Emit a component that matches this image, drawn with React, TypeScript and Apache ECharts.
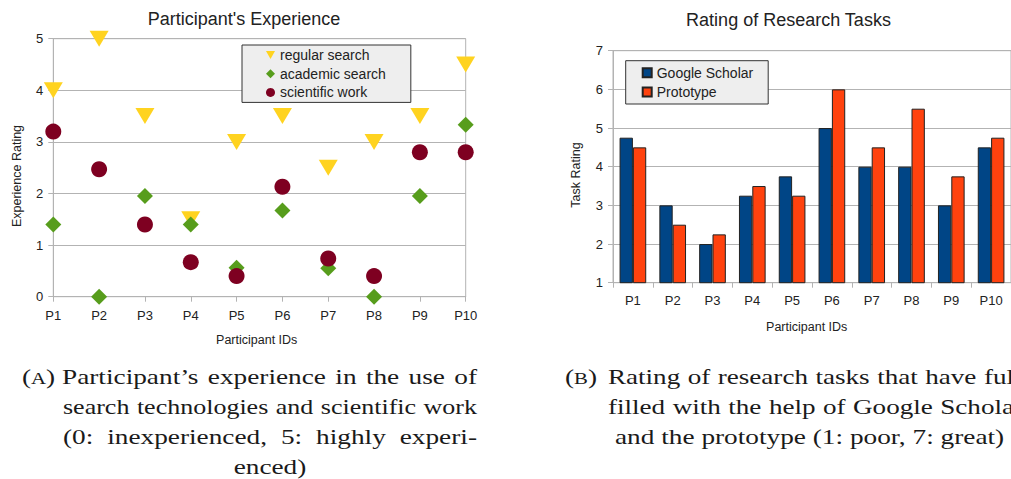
import React, { useEffect, useRef } from "react";
import * as echarts from "echarts";

// ---------- data ----------
const participants = ["P1", "P2", "P3", "P4", "P5", "P6", "P7", "P8", "P9", "P10"];
const regularSearch = [4, 5, 3.5, 1.5, 3, 3.5, 2.5, 3, 3.5, 4.5];
const academicSearch = [1.4, 0, 1.95, 1.4, 0.56, 1.67, 0.55, 0, 1.95, 3.33];
const scientificWork = [3.2, 2.47, 1.4, 0.67, 0.4, 2.13, 0.74, 0.4, 2.8, 2.8];
const googleScholar = [4.75, 3, 2, 3.25, 3.75, 5, 4, 4, 3, 4.5];
const prototypeRating = [4.5, 2.5, 2.25, 3.5, 3.25, 6, 4.5, 5.5, 3.75, 4.75];

const titleA = "Participant's Experience";
const titleB = "Rating of Research Tasks";
const yNameA = "Experience Rating";
const yNameB = "Task Rating";
const xName = "Participant IDs";

const captionA = [
  "Participant’s experience in the use of",
  "search technologies and scientific work",
  "(0: inexperienced, 5: highly experi-",
  "enced)",
];
const captionB = [
  "Rating of research tasks that have ful-",
  "filled with the help of Google Scholar",
  "and the prototype (1: poor, 7: great)",
];

// ---------- styles ----------
const SANS = "'Liberation Sans', Arial, sans-serif";
const SERIF = "'Liberation Serif', 'Times New Roman', serif";
const GRID = "#b3b3b3";
const TXT = "#222222";
const CAP_SIZE = 21;
const SX = 1.3;
const MIN_GAP = 7.5;

function measure(text: string, size: number): number {
  const c = document.createElement("canvas").getContext("2d")!;
  c.font = `${size}px ${SERIF}`;
  return c.measureText(text).width;
}

function capText(text: string, x: number, y: number, size = CAP_SIZE, align = "left", sx = SX) {
  return {
    type: "text",
    x,
    y,
    scaleX: sx,
    silent: true,
    style: {
      text,
      font: `${size}px ${SERIF}`,
      fill: "#1a1a1a",
      textAlign: align,
      textVerticalAlign: "bottom",
    },
  };
}

function justified(line: string, x0: number, x1: number, yb: number) {
  const words = line.split(" ");
  const natural = words.map((w) => measure(w, CAP_SIZE));
  const sumNat = natural.reduce((a, b) => a + b, 0);
  const avail = x1 - x0;
  const sx = Math.min(SX, (avail - (words.length - 1) * MIN_GAP) / sumNat);
  const widths = natural.map((w) => w * sx);
  const total = widths.reduce((a, b) => a + b, 0);
  const gap = (avail - total) / (words.length - 1);
  const els: any[] = [];
  let x = x0;
  words.forEach((w, i) => {
    els.push(capText(w, x, yb, CAP_SIZE, "left", sx));
    x += widths[i] + gap;
  });
  return els;
}

function label(letter: string, x: number, yb: number) {
  const wo = measure("(", CAP_SIZE) * SX;
  const wl = measure(letter, 16) * SX;
  return [
    capText("(", x, yb),
    capText(letter, x + wo, yb - 1, 16),
    capText(")", x + wo + wl, yb),
  ];
}

function sansText(text: string, x: number, y: number, size: number, rotation = 0) {
  return {
    type: "text",
    x,
    y,
    rotation,
    silent: true,
    style: {
      text,
      font: `${size}px ${SANS}`,
      fill: TXT,
      textAlign: "center",
      textVerticalAlign: "middle",
    },
  };
}

export default function App() {
  const ref = useRef<HTMLDivElement>(null);

  useEffect(() => {
    document.body.style.margin = "0";
    document.body.style.overflow = "hidden";
    const chart = echarts.init(ref.current!, undefined, { renderer: "svg" });

    const baselines = [387, 417, 447, 477];
    const captionEls: any[] = [
      ...label("A", 22, baselines[0]),
      ...justified(captionA[0], 62, 477, baselines[0]),
      ...justified(captionA[1], 63, 477, baselines[1]),
      ...justified(captionA[2], 63, 477, baselines[2]),
      capText(captionA[3], 270, baselines[3], CAP_SIZE, "center"),
      ...label("B", 565, baselines[0]),
      ...justified(captionB[0], 608, 1023, baselines[0]),
      ...justified(captionB[1], 608, 1023, baselines[1]),
      capText(captionB[2], 615, baselines[2]),
    ];

    const axisCommon = {
      axisLine: { show: true, lineStyle: { color: GRID, width: 1 } },
      axisTick: { show: true, length: 5, lineStyle: { color: GRID, width: 1 } },
      splitLine: { show: false },
    };

    chart.setOption({
      animation: false,
      backgroundColor: "#ffffff",
      textStyle: { fontFamily: SANS },
      grid: [
        { left: 53.3, top: 38.7, width: 412.4, height: 258, show: true, borderColor: GRID, borderWidth: 1 },
        { left: 613, top: 50.7, width: 405.6, height: 232, show: true, borderColor: GRID, borderWidth: 1 },
      ],
      xAxis: [
        {
          ...axisCommon,
          gridIndex: 0,
          type: "category",
          data: participants,
          boundaryGap: false,
          axisLabel: { margin: 12, fontSize: 13, color: TXT, fontFamily: SANS },
        },
        {
          ...axisCommon,
          gridIndex: 1,
          type: "category",
          data: participants,
          boundaryGap: true,
          axisLabel: { margin: 11, fontSize: 13, color: TXT, fontFamily: SANS },
        },
      ],
      yAxis: [
        {
          ...axisCommon,
          gridIndex: 0,
          type: "value",
          min: 0,
          max: 5,
          interval: 1,
          splitLine: { show: true, lineStyle: { color: GRID, width: 1 } },
          axisLabel: { margin: 10, fontSize: 13, color: TXT, fontFamily: SANS },
        },
        {
          ...axisCommon,
          gridIndex: 1,
          type: "value",
          min: 1,
          max: 7,
          interval: 1,
          splitLine: { show: true, lineStyle: { color: GRID, width: 1 } },
          axisLabel: { margin: 10, fontSize: 13, color: TXT, fontFamily: SANS },
        },
      ],
      legend: [
        {
          data: [
            { name: "regular search", icon: "path://M0,0L10,0L5,9Z" },
            { name: "academic search" },
            { name: "scientific work" },
          ],
          orient: "vertical",
          left: 242,
          top: 45,
          padding: [2, 25, 2, 24],
          itemGap: 2.7,
          itemWidth: 9,
          itemHeight: 9,
          backgroundColor: "#eeeeee",
          borderColor: "#333333",
          borderWidth: 1,
          selectedMode: false,
          textStyle: { fontSize: 14, lineHeight: 16, color: TXT, fontFamily: SANS },
        },
        {
          data: ["Google Scholar", "Prototype"],
          orient: "vertical",
          left: 625.7,
          top: 60.7,
          padding: [4, 15, 4, 16],
          itemGap: 3.3,
          itemWidth: 9,
          itemHeight: 9,
          icon: "rect",
          backgroundColor: "#eeeeee",
          borderColor: "#333333",
          borderWidth: 1,
          selectedMode: false,
          textStyle: { fontSize: 14, lineHeight: 16, color: TXT, fontFamily: SANS },
        },
      ],
      series: [
        {
          name: "regular search",
          type: "scatter",
          xAxisIndex: 0,
          yAxisIndex: 0,
          data: regularSearch,
          symbol: "triangle",
          symbolRotate: 180,
          symbolSize: [19, 16],
          itemStyle: { color: "#ffd320", opacity: 1 },
          emphasis: { disabled: true },
        },
        {
          name: "academic search",
          type: "scatter",
          xAxisIndex: 0,
          yAxisIndex: 0,
          data: academicSearch,
          symbol: "diamond",
          symbolSize: 16,
          itemStyle: { color: "#579d1c", opacity: 1 },
          emphasis: { disabled: true },
        },
        {
          name: "scientific work",
          type: "scatter",
          xAxisIndex: 0,
          yAxisIndex: 0,
          data: scientificWork,
          symbol: "circle",
          symbolSize: 16,
          itemStyle: { color: "#7e0021", opacity: 1 },
          emphasis: { disabled: true },
        },
        {
          name: "Google Scholar",
          type: "bar",
          xAxisIndex: 1,
          yAxisIndex: 1,
          data: googleScholar,
          barGap: "0%",
          barCategoryGap: "33%",
          itemStyle: { color: "#004586", borderColor: "#222222", borderWidth: 1 },
          emphasis: { disabled: true },
        },
        {
          name: "Prototype",
          type: "bar",
          xAxisIndex: 1,
          yAxisIndex: 1,
          data: prototypeRating,
          barGap: "0%",
          barCategoryGap: "33%",
          itemStyle: { color: "#ff420e", borderColor: "#222222", borderWidth: 1 },
          emphasis: { disabled: true },
        },
      ],
      graphic: [
        sansText(titleA, 244, 19, 18),
        sansText(titleB, 788.5, 20, 18),
        sansText(yNameA, 16.7, 176, 12.5, Math.PI / 2),
        sansText(yNameB, 576, 175, 12.5, Math.PI / 2),
        sansText(xName, 256.7, 340, 12.5),
        sansText(xName, 806.7, 326.7, 12.5),
        ...captionEls,
      ],
    });

    return () => chart.dispose();
  }, []);

  return (
    <div
      ref={ref}
      style={{ position: "absolute", left: 0, top: 0, width: 1011, height: 479, background: "#fff" }}
    />
  );
}
